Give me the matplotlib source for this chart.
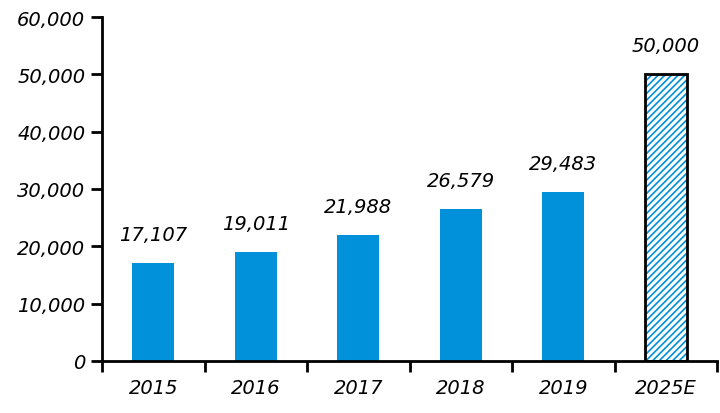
import matplotlib
matplotlib.use("Agg")
import matplotlib.pyplot as plt
import numpy as np

years = ["2015", "2016", "2017", "2018", "2019", "2025E"]
values = [17107, 19011, 21988, 26579, 29483, 50000]
estimate = [False, False, False, False, False, True]

blue = "#0091DA"

plt.rcParams['font.family'] = ['DejaVu Sans']
plt.rcParams['hatch.linewidth'] = 1.2
fig = plt.figure(figsize=(7.2, 4.14), dpi=100)
ax = fig.add_axes([102 / 720, 1 - 362 / 414, 615 / 720, 344 / 414])

x = np.arange(len(years))
for i, (v, est) in enumerate(zip(values, estimate)):
    if est:
        ax.bar(i, v, width=0.41, color="white", edgecolor=blue, hatch="/////", linewidth=0)
        ax.bar(i, v, width=0.41, fill=False, edgecolor="black", linewidth=2)
    else:
        ax.bar(i, v, width=0.41, color=blue)
    ax.text(i, v + 3300, f"{v:,}", ha="center", va="bottom", fontsize=14, style="italic")

ax.set_xlim(-0.5, 5.5)
ax.set_ylim(0, 60000)
ax.set_yticks(range(0, 60001, 10000))
ax.set_yticklabels([f"{t:,}" for t in range(0, 60001, 10000)], fontsize=14, style="italic")
ax.set_xticks(np.arange(-0.5, 6, 1))
ax.set_xticklabels([])
ax.set_xticks(x, minor=True)
ax.set_xticklabels(years, minor=True, fontsize=14, style="italic")
ax.tick_params(axis="x", which="minor", length=0, pad=12)
ax.tick_params(axis="x", which="major", length=8, width=2, direction="out")
ax.tick_params(axis="y", length=8, width=2, direction="out", pad=4)

for s in ["top", "right"]:
    ax.spines[s].set_visible(False)
for s in ["left", "bottom"]:
    ax.spines[s].set_linewidth(2)

fig.savefig("out.png", dpi=100)
